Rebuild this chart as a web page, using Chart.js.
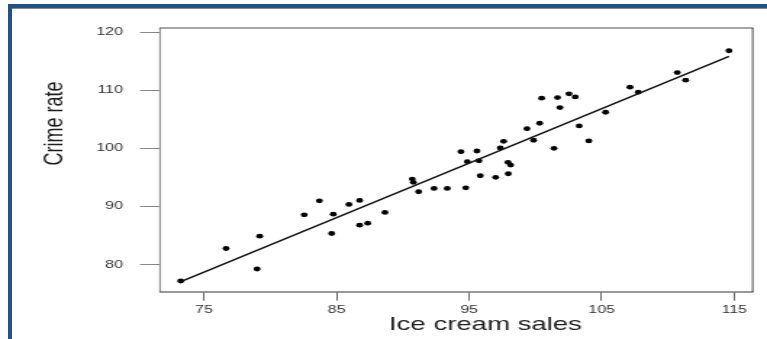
<!DOCTYPE html>
<html><head><meta charset="utf-8">
<script src="https://cdn.jsdelivr.net/npm/chart.js@4"></script>
<style>
html,body{margin:0;padding:0;background:#fff;overflow:hidden;}
#wrap{position:relative;width:767px;height:339px;background:#fff;}
#c{position:absolute;left:0;top:0;}
.bl{position:absolute;background:#244f87;}
</style></head><body>
<div id="wrap">
<canvas id="c" width="529" height="339" style="width:767px;height:339px;"></canvas>
<div class="bl" style="left:8px;top:4px;width:4px;height:335px"></div>
<div class="bl" style="left:8px;top:4px;width:759px;height:4px"></div>
<div style="position:absolute;left:12px;top:8px;width:755px;height:1px;background:#8a8a8a"></div>
</div>
<script>
// ---- data ----
const iceCreamSales = [73.24,76.66,79.0,79.2,82.56,83.7,84.75,84.63,85.93,86.74,86.74,87.35,88.65,90.71,90.79,91.19,92.35,93.35,94.74,94.38,94.86,95.59,95.74,95.84,97.0,97.95,97.93,98.13,97.35,97.6,99.36,99.86,100.32,100.47,101.4,101.67,101.85,102.53,103.0,103.3,104.03,105.29,107.13,107.76,110.7,111.33,114.6];
const crimeRate = [77.17,82.76,79.24,84.88,88.55,90.97,88.67,85.34,90.34,91.03,86.78,87.12,88.97,94.7,94.14,92.52,93.1,93.1,93.2,99.41,97.69,99.53,97.86,95.28,95.0,95.62,97.59,97.12,100.05,101.2,103.38,101.38,104.31,108.62,100.0,108.72,107.0,109.36,108.84,103.84,101.26,106.2,110.52,109.66,113.03,111.72,116.78];
const fitLineX = [73.3, 114.6];
const fitLineY = [77.1, 115.8];
const xTickValues = [75, 85, 95, 105, 115];
const yTickValues = [80, 90, 100, 110, 120];
const xAxisTitle = 'Ice cream sales';
const yAxisTitle = 'Crime rate';

// ---- layout (the picture is horizontally stretched, so the canvas is too) ----
const SX = 767 / 529;
const px = v => v / SX;
const area = {left: px(160), right: px(752.7), top: 28, bottom: 292};
const FONT = '"Liberation Sans", Arial, Helvetica, sans-serif';

const points = iceCreamSales.map((x, i) => ({x, y: crimeRate[i]}));
const fit = fitLineX.map((x, i) => ({x, y: fitLineY[i]}));

function seg(ctx, x1, y1, x2, y2, color, w) {
  ctx.beginPath(); ctx.strokeStyle = color; ctx.lineWidth = w;
  ctx.moveTo(x1, y1); ctx.lineTo(x2, y2); ctx.stroke();
}

const boxPlugin = {
  id: 'box',
  beforeDatasetsDraw(chart) {
    const {ctx, chartArea: a} = chart;
    ctx.save();
    seg(ctx, a.left - 0.4, a.top, a.right + 0.4, a.top, '#8a8a8a', 1.3);
    seg(ctx, a.left - 0.4, a.bottom, a.right + 0.4, a.bottom, '#777', 1.3);
    seg(ctx, a.left, a.top, a.left, a.bottom, '#555', 0.75);
    seg(ctx, a.right, a.top, a.right, a.bottom, '#111', 0.8);
    ctx.restore();
  }
};

const titlePlugin = {
  id: 'titles',
  afterDraw(chart) {
    const ctx = chart.ctx;
    ctx.save();
    ctx.fillStyle = '#1e1e1e';
    ctx.font = '19px ' + FONT;
    ctx.textAlign = 'center';
    ctx.textBaseline = 'alphabetic';
    ctx.fillText(xAxisTitle, px(485.5), 330);
    ctx.translate(px(63), 123.4);
    ctx.rotate(-Math.PI / 2);
    ctx.font = '18px ' + FONT;
    ctx.fillText(yAxisTitle, 0, 0);
    ctx.restore();
  }
};

new Chart(document.getElementById('c'), {
  type: 'scatter',
  data: {
    datasets: [
      {type: 'line', data: fit, borderColor: '#111', borderWidth: 1.5, pointRadius: 0, fill: false},
      {type: 'scatter', data: points, backgroundColor: '#000', borderWidth: 0, pointRadius: 2.4}
    ]
  },
  options: {
    responsive: false,
    animation: false,
    events: [],
    layout: {padding: {left: 0, right: 529 - area.right, top: area.top, bottom: 0}},
    plugins: {legend: {display: false}, tooltip: {enabled: false}},
    scales: {
      x: {
        type: 'linear', min: 71.68, max: 116.39,
        afterBuildTicks: s => { s.ticks = xTickValues.map(v => ({value: v})); },
        afterFit: s => { s.height = 339 - area.bottom; },
        border: {display: false},
        grid: {drawOnChartArea: false, drawTicks: true, tickLength: 8.7, color: '#333', lineWidth: 0.75},
        ticks: {padding: 3, color: '#333', autoSkip: false, maxRotation: 0, font: {family: FONT, size: 11}}
      },
      y: {
        type: 'linear', min: 75.28, max: 120.69,
        afterBuildTicks: s => { s.ticks = yTickValues.map(v => ({value: v})); },
        afterFit: s => { s.width = area.left; },
        border: {display: false},
        grid: {drawOnChartArea: false, drawTicks: true, tickLength: 13.8, color: '#888', lineWidth: 1},
        ticks: {padding: 11.75, color: '#333', autoSkip: false, font: {family: FONT, size: 11}}
      }
    }
  },
  plugins: [boxPlugin, titlePlugin]
});
</script>
</body></html>
